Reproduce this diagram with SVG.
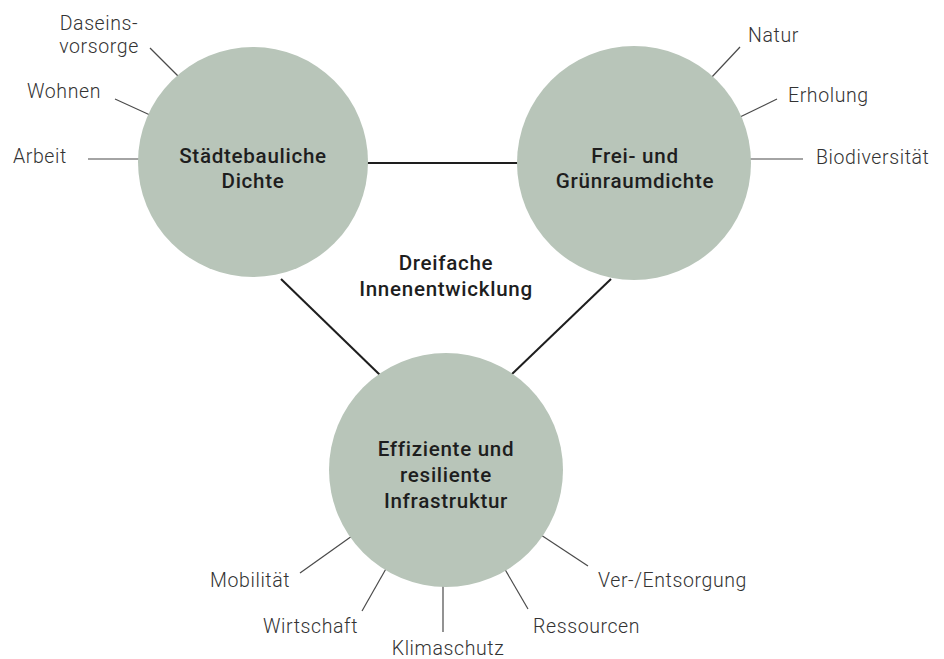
<svg xmlns="http://www.w3.org/2000/svg" width="944" height="659" viewBox="0 0 944 659">
<style>
.bg{fill:#ffffff}
.circle{fill:#b8c5b9}
.conn{stroke:#1e1e1e;stroke-width:2;fill:none}
.lead{stroke:#4a4a4a;stroke-width:1.2;fill:none}
.title{font-family:Roboto,"Liberation Sans",sans-serif;font-weight:500;font-size:20.6px;fill:#1e1e1e;text-anchor:middle;letter-spacing:0.7px}
.label{font-family:Roboto,"Liberation Sans",sans-serif;font-weight:300;font-size:19.5px;fill:#333333;letter-spacing:0.6px}
</style>
<rect class="bg" x="0" y="0" width="944" height="659"/>
<g id="connectors">
<line class="conn" x1="360" y1="163" x2="525" y2="163"/>
<line class="conn" x1="281" y1="279" x2="380" y2="375"/>
<line class="conn" x1="611" y1="279" x2="511" y2="375"/>
<line class="lead" x1="150" y1="48" x2="180" y2="78"/>
<line class="lead" x1="115" y1="99" x2="150" y2="115"/>
<line class="lead" x1="88" y1="159" x2="140" y2="159"/>
<line class="lead" x1="740" y1="47" x2="711" y2="78"/>
<line class="lead" x1="777" y1="99" x2="740" y2="117"/>
<line class="lead" x1="803" y1="159" x2="750" y2="159"/>
<line class="lead" x1="300" y1="573" x2="352" y2="536"/>
<line class="lead" x1="362" y1="611" x2="387" y2="567"/>
<line class="lead" x1="443" y1="632" x2="443" y2="584"/>
<line class="lead" x1="528" y1="609" x2="503" y2="566"/>
<line class="lead" x1="588" y1="566" x2="541" y2="535"/>
</g>
<g id="node-staedtebau">
<circle class="circle" cx="253" cy="162" r="115"/>
<text class="title" x="253" y="163">Städtebauliche</text>
<text class="title" x="253" y="188">Dichte</text>
</g>
<g id="node-freiraum">
<circle class="circle" cx="634" cy="163" r="117"/>
<text class="title" x="635" y="163">Frei- und</text>
<text class="title" x="635" y="188">Grünraumdichte</text>
</g>
<g id="node-infrastruktur">
<circle class="circle" cx="446" cy="470" r="117"/>
<text class="title" x="446" y="456">Effiziente und</text>
<text class="title" x="446" y="482">resiliente</text>
<text class="title" x="446" y="508">Infrastruktur</text>
</g>
<g id="node-center">
<text class="title" x="446" y="270">Dreifache</text>
<text class="title" x="446" y="296">Innenentwicklung</text>
</g>
<g id="labels">
<text class="label" x="99" y="30" text-anchor="middle">Daseins-</text>
<text class="label" x="99" y="53" text-anchor="middle">vorsorge</text>
<text class="label" x="27" y="98">Wohnen</text>
<text class="label" x="13" y="163">Arbeit</text>
<text class="label" x="748" y="42">Natur</text>
<text class="label" x="788" y="102">Erholung</text>
<text class="label" x="816" y="164">Biodiversität</text>
<text class="label" x="210" y="587">Mobilität</text>
<text class="label" x="263" y="633">Wirtschaft</text>
<text class="label" x="448" y="655" text-anchor="middle">Klimaschutz</text>
<text class="label" x="533" y="633">Ressourcen</text>
<text class="label" x="598" y="587">Ver-/Entsorgung</text>
</g>
</svg>
